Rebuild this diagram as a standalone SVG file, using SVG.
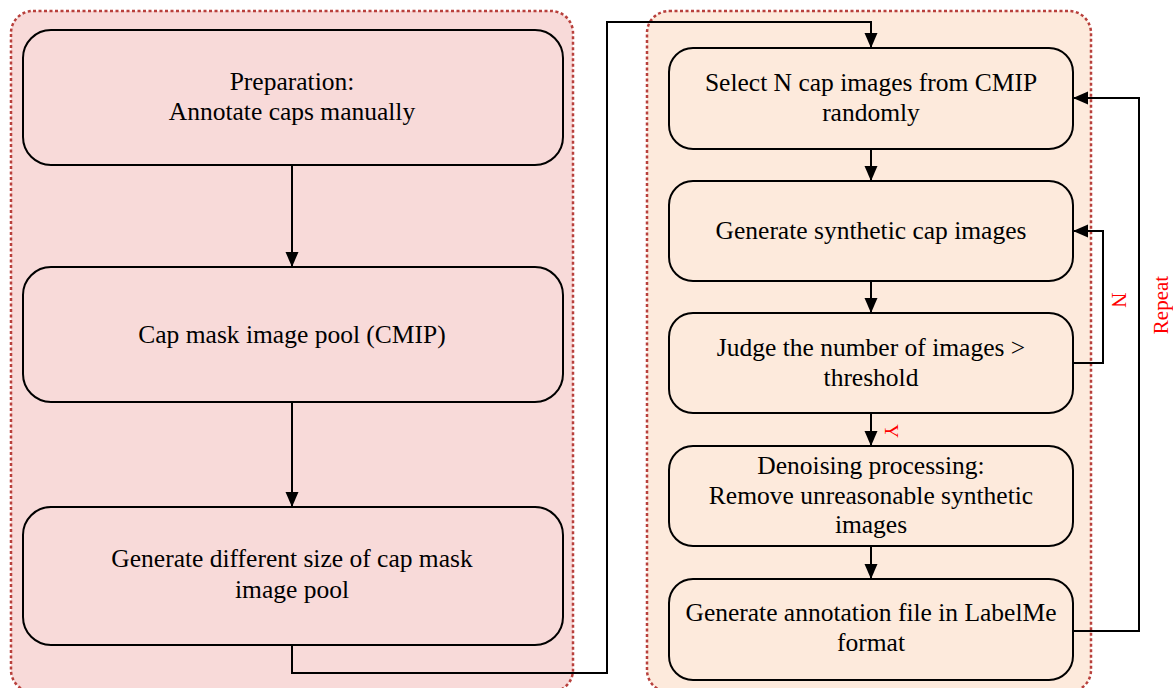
<svg xmlns="http://www.w3.org/2000/svg" width="1173" height="688" viewBox="0 0 1173 688">
<style>
.cont{stroke:#b8403c;stroke-width:2.5;stroke-dasharray:3 2.5}
.box{stroke:#000;stroke-width:2}
.t{font-size:25.5px;fill:#000;text-anchor:middle}
.r{fill:#ff0000;text-anchor:middle;dominant-baseline:central}
.c{fill:none;stroke:#000;stroke-width:2}
</style>
<defs>
<marker id="ah" markerUnits="userSpaceOnUse" markerWidth="16" markerHeight="14" refX="15" refY="6.5" orient="auto">
<path d="M0,0 L15,6.5 L0,13 z" fill="#000"/>
</marker>
</defs>
<rect width="1173" height="688" fill="#fff"/>
<g id="left-container"><rect class="cont" x="11" y="11" width="562" height="681" rx="22" fill="#f8dad9"/></g>
<g id="right-container"><rect class="cont" x="647" y="11" width="444" height="681" rx="22" fill="#fdeadc"/></g>
<g font-family="'Liberation Serif', 'Times New Roman', Times, serif">
<g id="n1"><rect class="box" x="23" y="30" width="540" height="135" rx="28" fill="#f8dad9"/>
<text class="t" x="292" y="90">Preparation:</text><text class="t" x="292" y="120">Annotate caps manually</text></g>
<g id="n2"><rect class="box" x="23" y="267" width="540" height="135" rx="28" fill="#f8dad9"/>
<text class="t" x="292" y="343">Cap mask image pool (CMIP)</text></g>
<g id="n3"><rect class="box" x="23" y="507" width="540" height="138" rx="28" fill="#f8dad9"/>
<text class="t" x="292" y="567">Generate different size of cap mask</text><text class="t" x="292" y="598">image pool</text></g>
<g id="r1"><rect class="box" x="669" y="48" width="404" height="101" rx="24" fill="#fdeadc"/>
<text class="t" x="871" y="91">Select N cap images from CMIP</text><text class="t" x="871" y="121">randomly</text></g>
<g id="r2"><rect class="box" x="669" y="181" width="404" height="100" rx="24" fill="#fdeadc"/>
<text class="t" x="871" y="239">Generate synthetic cap images</text></g>
<g id="r3"><rect class="box" x="669" y="313" width="404" height="100" rx="24" fill="#fdeadc"/>
<text class="t" x="871" y="356">Judge the number of images &gt;</text><text class="t" x="871" y="386">threshold</text></g>
<g id="r4"><rect class="box" x="669" y="446" width="404" height="100" rx="24" fill="#fdeadc"/>
<text class="t" x="871" y="474">Denoising processing:</text><text class="t" x="871" y="504">Remove unreasonable synthetic</text><text class="t" x="871" y="533">images</text></g>
<g id="r5"><rect class="box" x="669" y="579" width="404" height="101" rx="24" fill="#fdeadc"/>
<text class="t" x="871" y="621">Generate annotation file in LabelMe</text><text class="t" x="871" y="651">format</text></g>
<g id="connectors">
<path class="c" d="M292,165 V267" marker-end="url(#ah)"/>
<path class="c" d="M292,402 V507" marker-end="url(#ah)"/>
<path class="c" d="M292,645 V673 H607 V22 H871 V48" marker-end="url(#ah)"/>
<path class="c" d="M871,149 V181" marker-end="url(#ah)"/>
<path class="c" d="M871,281 V313" marker-end="url(#ah)"/>
<path class="c" d="M871,413 V446" marker-end="url(#ah)"/>
<path class="c" d="M871,546 V579" marker-end="url(#ah)"/>
<path class="c" d="M1073,363 H1103 V231 H1073" marker-end="url(#ah)"/>
<path class="c" d="M1073,631 H1139 V98 H1073" marker-end="url(#ah)"/>
<text class="r" font-size="19" transform="translate(891,431) rotate(90)">Y</text>
<text class="r" font-size="21" transform="translate(1119,300) rotate(90)">N</text>
<text class="r" font-size="21" transform="translate(1161,305) rotate(-90)">Repeat</text>
</g>
</g>
</svg>
